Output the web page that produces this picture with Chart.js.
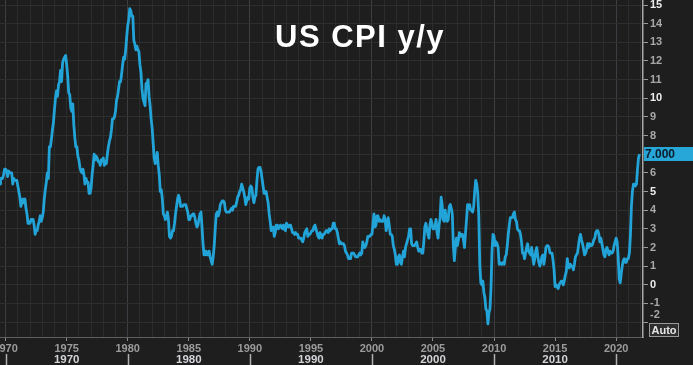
<!DOCTYPE html>
<html><head><meta charset="utf-8">
<script src="https://cdn.jsdelivr.net/npm/chart.js@4/dist/chart.umd.min.js"></script>
<style>html,body{margin:0;padding:0;background:#1d1d1d;overflow:hidden}canvas{display:block}</style>
</head><body>
<canvas id="c" width="693" height="365"></canvas>
<script>
const TITLE = 'US CPI y/y';
const SERIES_NAME = 'US CPI y/y';
const AUTO_LABEL = 'Auto';
const START_YEAR = 1969;
// monthly year-over-year CPI, %, by decade
const cpi1969 = [4.4,4.7,5.2,5.5,5.5,5.5,5.4,5.7,5.7,5.7,5.9,6.2];
const cpi1970s = [
  6.2,6.1,5.8,6.1,6.0,6.0,6.0,5.4,5.7,5.6,5.6,5.6,
  5.3,5.0,4.7,4.2,4.4,4.6,4.4,4.6,4.1,3.8,3.3,3.3,
  3.3,3.5,3.5,3.5,3.2,2.7,2.9,2.9,3.2,3.4,3.7,3.4,
  3.6,3.9,4.6,5.1,5.5,6.0,5.7,7.4,7.4,7.8,8.3,8.7,
  9.4,10.0,10.4,10.1,10.7,10.9,11.5,10.9,11.9,12.1,12.2,12.3,
  11.8,11.2,10.3,10.2,9.5,9.3,9.7,8.6,7.9,7.4,7.4,6.9,
  6.7,6.3,6.1,6.0,6.2,5.9,5.4,5.7,5.5,5.5,4.9,4.9,
  5.2,5.9,6.4,7.0,6.7,6.9,6.8,6.6,6.6,6.4,6.7,6.7,
  6.8,6.4,6.6,6.5,7.0,7.4,7.7,7.9,8.3,8.9,8.9,9.0,
  9.3,9.9,10.1,10.5,10.9,10.9,11.3,11.8,12.2,12.1,12.6,13.3
];
const cpi1980s = [
  13.9,14.2,14.8,14.7,14.4,14.4,13.1,12.9,12.6,12.8,12.6,12.5,
  11.8,11.4,10.5,10.0,9.8,9.6,10.8,10.8,11.0,10.1,9.6,8.9,
  8.4,7.6,6.8,6.5,6.7,7.1,6.4,5.9,5.0,5.1,4.6,3.8,
  3.7,3.5,3.6,3.9,3.5,2.6,2.5,2.6,2.9,2.9,3.3,3.8,
  4.2,4.6,4.8,4.6,4.2,4.2,4.2,4.3,4.3,4.3,4.1,3.9,
  3.5,3.5,3.7,3.7,3.8,3.8,3.6,3.3,3.1,3.2,3.5,3.8,
  3.9,3.1,2.2,1.6,1.6,1.8,1.6,1.6,1.8,1.5,1.3,1.1,
  1.5,2.1,3.0,3.8,3.9,3.7,3.9,4.3,4.4,4.5,4.5,4.4,
  4.0,3.9,3.9,3.9,3.9,4.0,4.1,4.0,4.2,4.2,4.2,4.4,
  4.7,4.8,5.0,5.1,5.4,5.2,5.0,4.7,4.3,4.5,4.7,4.6
];
const cpi1990s = [
  5.2,5.3,5.2,4.7,4.4,4.7,4.8,5.6,6.2,6.3,6.3,6.1,
  5.7,5.3,4.9,4.9,5.0,4.7,4.4,3.8,3.4,2.9,3.0,3.1,
  2.6,2.8,3.2,3.2,3.0,3.1,3.2,3.1,3.0,3.2,3.0,2.9,
  3.3,3.2,3.1,3.2,3.2,3.0,2.8,2.8,2.7,2.8,2.7,2.7,
  2.5,2.5,2.5,2.4,2.3,2.5,2.8,2.9,3.0,2.6,2.7,2.7,
  2.8,2.9,2.9,3.1,3.2,3.0,2.8,2.6,2.5,2.8,2.6,2.5,
  2.7,2.7,2.8,2.9,2.9,2.8,3.0,2.9,3.0,3.0,3.3,3.3,
  3.0,3.0,2.8,2.5,2.2,2.3,2.2,2.2,2.2,2.1,1.8,1.7,
  1.6,1.4,1.4,1.4,1.7,1.7,1.7,1.6,1.5,1.5,1.5,1.6,
  1.7,1.6,1.7,2.3,2.1,2.0,2.1,2.3,2.6,2.6,2.6,2.7
];
const cpi2000s = [
  2.7,3.2,3.8,3.1,3.2,3.7,3.7,3.4,3.5,3.4,3.4,3.4,
  3.7,3.5,2.9,3.3,3.6,3.2,2.7,2.7,2.6,2.1,1.9,1.6,
  1.1,1.1,1.5,1.6,1.2,1.1,1.5,1.8,1.5,2.0,2.2,2.4,
  2.6,3.0,3.0,2.2,2.1,2.1,2.1,2.2,2.3,2.0,1.8,1.9,
  1.9,1.7,1.7,2.3,3.1,3.3,3.0,2.7,2.5,3.2,3.5,3.3,
  3.0,3.0,3.1,3.5,2.8,2.5,3.2,3.6,4.7,4.3,3.5,3.4,
  4.0,3.6,3.4,3.5,4.2,4.3,4.1,3.8,2.1,1.3,2.0,2.5,
  2.1,2.4,2.8,2.6,2.7,2.7,2.4,2.0,2.8,3.5,4.3,4.1,
  4.3,4.0,4.0,3.9,4.2,5.0,5.6,5.4,4.9,3.7,1.1,0.1,
  0.0,0.2,-0.4,-0.7,-1.3,-1.4,-2.1,-1.5,-1.3,-0.2,1.8,2.7
];
const cpi2010s = [
  2.6,2.1,2.3,2.2,2.0,1.1,1.2,1.1,1.1,1.2,1.1,1.5,
  1.6,2.1,2.7,3.2,3.6,3.6,3.6,3.8,3.9,3.5,3.4,3.0,
  2.9,2.9,2.7,2.3,1.7,1.7,1.4,1.7,2.0,2.2,1.8,1.7,
  1.6,2.0,1.5,1.1,1.4,1.8,2.0,1.5,1.2,1.0,1.2,1.5,
  1.6,1.1,1.5,2.0,2.1,2.1,2.0,1.7,1.7,1.7,1.3,0.8,
  -0.1,0.0,-0.1,-0.2,0.0,0.1,0.2,0.2,0.0,0.2,0.5,0.7,
  1.4,1.0,0.9,1.1,1.0,1.0,0.8,1.1,1.5,1.6,1.7,2.1,
  2.5,2.7,2.4,2.2,1.9,1.6,1.7,1.9,2.2,2.0,2.2,2.1,
  2.1,2.2,2.4,2.5,2.8,2.9,2.9,2.7,2.3,2.5,2.2,1.9,
  1.6,1.5,1.9,2.0,1.8,1.6,1.8,1.7,1.7,1.8,2.1,2.3
];
const cpi2020s = [
  2.5,2.3,1.5,0.3,0.1,0.6,1.0,1.3,1.4,1.2,1.2,1.4,
  1.4,1.7,2.6,4.2,5.0,5.4,5.4,5.3,5.4,6.2,6.8,7.0
];
const fiveYearLabels = [1970,1975,1980,1985,1990,1995,2000,2005,2010,2015,2020];
const decadeLabels = ['1970','1980','1990','2000','2010'];
const decadeTicks = [1970,1980,1990,2000,2010,2020];
const yTickLabels = [-2,-1,0,1,2,3,4,5,6,7,8,9,10,11,12,13,14,15];

const allValues = [].concat(cpi1969, cpi1970s, cpi1980s, cpi1990s, cpi2000s, cpi2010s, cpi2020s);
const points = allValues.map((v, i) => ({x: START_YEAR + i / 12, y: v}));
const lastValue = allValues[allValues.length - 1];

const FONT = "'Liberation Sans', Arial, sans-serif";

const decor = {
  id: 'decor',
  beforeDraw(chart) {
    const c = chart.ctx;
    c.save();
    c.fillStyle = '#1e1e1e';
    c.fillRect(0, 0, chart.width, chart.height);
    c.restore();
  },
  afterDraw(chart) {
    const c = chart.ctx;
    const xs = chart.scales.x, ys = chart.scales.y;
    const area = chart.chartArea;
    c.save();
    // title
    c.fillStyle = '#ffffff';
    c.font = 'bold 31px ' + FONT;
    c.textBaseline = 'alphabetic';
    c.textAlign = 'left';
    try { c.letterSpacing = '1.5px'; } catch (e) {}
    c.fillText(TITLE, 275, 47);
    try { c.letterSpacing = '0px'; } catch (e) {}
    // decade ticks and labels
    c.strokeStyle = '#b0b0b0';
    c.lineWidth = 1.5;
    decadeTicks.forEach(d => {
      const x = Math.round(xs.getPixelForValue(d)) + 0.5;
      c.beginPath(); c.moveTo(x, 354); c.lineTo(x, 365); c.stroke();
    });
    c.fillStyle = '#d2d4d8';
    c.font = 'bold 11.5px ' + FONT;
    c.textAlign = 'center';
    c.textBaseline = 'middle';
    decadeLabels.forEach(d => {
      c.fillText(d, xs.getPixelForValue(+d + 5), 360);
    });
    // -2 label (shifted up above the Auto box)
    c.fillStyle = '#a8a8a8';
    c.font = 'bold 11px ' + FONT;
    c.textAlign = 'left';
    c.fillText(String(yTickLabels[0]), 650, 315);
    // last value box
    const yl = ys.getPixelForValue(lastValue);
    c.fillStyle = '#27a6d8';
    c.fillRect(area.right + 1, Math.round(yl) - 7, chart.width - area.right - 1, 14);
    c.fillStyle = '#0c1d2a';
    c.font = 'bold 12px ' + FONT;
    c.fillText(lastValue.toFixed(3), area.right + 2, Math.round(yl) + 0.5);
    // Auto box
    c.fillStyle = '#2e2e2e';
    c.fillRect(649.5, 323.5, 29, 13);
    c.strokeStyle = '#9a9a9a';
    c.lineWidth = 1;
    c.strokeRect(649.5, 323.5, 29, 13);
    c.fillStyle = '#e6e6e6';
    c.font = 'bold 11px ' + FONT;
    c.textAlign = 'center';
    c.fillText(AUTO_LABEL, 664, 330.5);
    c.restore();
  }
};

new Chart(document.getElementById('c'), {
  type: 'line',
  data: {
    datasets: [{
      label: SERIES_NAME,
      data: points,
      borderColor: '#22a4d8',
      borderWidth: 2.8,
      borderJoinStyle: 'round',
      pointRadius: 0,
      tension: 0,
      fill: false
    }]
  },
  options: {
    responsive: false,
    animation: false,
    devicePixelRatio: 1,
    layout: {padding: 0},
    plugins: {legend: {display: false}, tooltip: {enabled: false}, title: {display: false}},
    scales: {
      x: {
        type: 'linear',
        min: 1969.54,
        max: 2022.2,
        afterFit(s) { s.height = 28; s.paddingLeft = 0; s.paddingRight = 0; },
        border: {color: '#5e5e5e', width: 1},
        grid: {
          color: ctx => (ctx.tick && Math.round(ctx.tick.value) % 10 === 0) ? '#3d3e43' : '#2a2d2a',
          lineWidth: 1,
          tickLength: 4,
          tickColor: ctx => (ctx.tick && Math.round(ctx.tick.value) % 5 === 0) ? '#8a8a8a' : 'rgba(0,0,0,0)'
        },
        ticks: {
          stepSize: 1,
          autoSkip: false,
          includeBounds: false,
          maxRotation: 0,
          minRotation: 0,
          padding: 1,
          color: '#9c9c9c',
          font: {family: FONT, size: 11, weight: 'bold'},
          callback: v => fiveYearLabels.includes(Math.round(v)) ? String(Math.round(v)) : ''
        }
      },
      y: {
        position: 'right',
        min: -2.8,
        max: 15.27,
        afterFit(s) { s.width = 50; s.paddingTop = 0; s.paddingBottom = 0; },
        border: {color: '#a8a8a8', width: 1.5},
        grid: {color: '#2c2f2c', lineWidth: 1, tickLength: 5, tickColor: '#9a9a9a'},
        ticks: {
          stepSize: 1,
          includeBounds: false,
          padding: 2,
          color: ctx => (Math.round(ctx.tick.value) % 5 === 0) ? '#ececec' : '#a8a8a8',
          font: {family: FONT, size: 11, weight: 'bold'},
          callback: v => (Math.round(v) === yTickLabels[0]) ? '' : String(Math.round(v))
        }
      }
    }
  },
  plugins: [decor]
});
</script>
</body></html>
